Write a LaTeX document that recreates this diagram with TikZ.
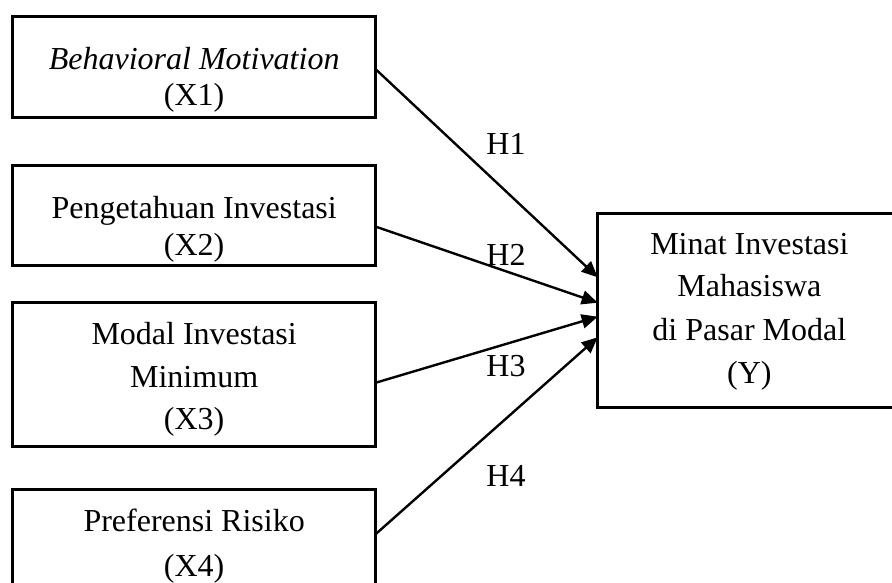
\documentclass[tikz,border=0pt]{standalone}
\usepackage{fontspec}
\setmainfont{Liberation Serif}
\usetikzlibrary{arrows.meta}
\begin{document}
\begin{tikzpicture}[x=1pt,y=-1pt,
  box/.style={draw=black, line width=3pt, rectangle, inner sep=0pt, outer sep=0pt},
  txt/.style={anchor=base, inner sep=0pt, font=\fontsize{32}{38}\selectfont},
  arr/.style={line width=2.4pt, -{Triangle[length=16pt,width=14pt]}}]
\useasboundingbox (0,0) rectangle (892,583);
\begin{scope}
\clip (0,0) rectangle (892,583);
% boxes
\node[box, minimum width=363.3pt, minimum height=101.3pt] (x1) at (194.15,67.35) {};
\node[box, minimum width=363.3pt, minimum height=100.4pt] (x2) at (194.15,215.5) {};
\node[box, minimum width=363.3pt, minimum height=143.3pt] (x3) at (194.15,374.35) {};
\node[box, minimum width=363.3pt, minimum height=110.7pt] (x4) at (194.15,544.65) {};
\node[box, minimum width=303.3pt, minimum height=193.8pt] (y) at (749.35,310.6) {};
% texts
\node[txt] (x1a) at (194.15,70) {\itshape Behavioral Motivation};
\node[txt] (x1b) at (194.15,106) {(X1)};
\node[txt] (x2a) at (194.15,218.3) {Pengetahuan Investasi};
\node[txt] (x2b) at (194.15,255) {(X2)};
\node[txt] (x3a) at (194.15,344.3) {Modal Investasi};
\node[txt] (x3b) at (194.15,387) {Minimum};
\node[txt] (x3c) at (194.15,429) {(X3)};
\node[txt] (x4a) at (194.15,531) {Preferensi Risiko};
\node[txt] (x4b) at (194.15,576) {(X4)};
\node[txt] (ya) at (749.35,254) {Minat Investasi};
\node[txt] (yb) at (749.35,296.7) {Mahasiswa};
\node[txt] (yc) at (749.35,340) {di Pasar Modal};
\node[txt] (yd) at (749.35,383.5) {(Y)};
% arrows
\draw[arr] ([yshift=-2pt]x1.east) -- ([yshift=33.3pt]y.west);
\draw[arr] ([yshift=-11.2pt]x2.east) -- ([yshift=7.9pt]y.west);
\draw[arr] ([yshift=-8.35pt]x3.east) -- ([yshift=-6.1pt]y.west);
\draw[arr] ([yshift=-44.7pt]x4.north east) -- ([yshift=-26.7pt]y.west);
% labels
\node[txt] (h1) at (506,155) {H1};
\node[txt] (h2) at (506,265.7) {H2};
\node[txt] (h3) at (506,376) {H3};
\node[txt] (h4) at (506,486.7) {H4};
\end{scope}
\end{tikzpicture}
\end{document}
